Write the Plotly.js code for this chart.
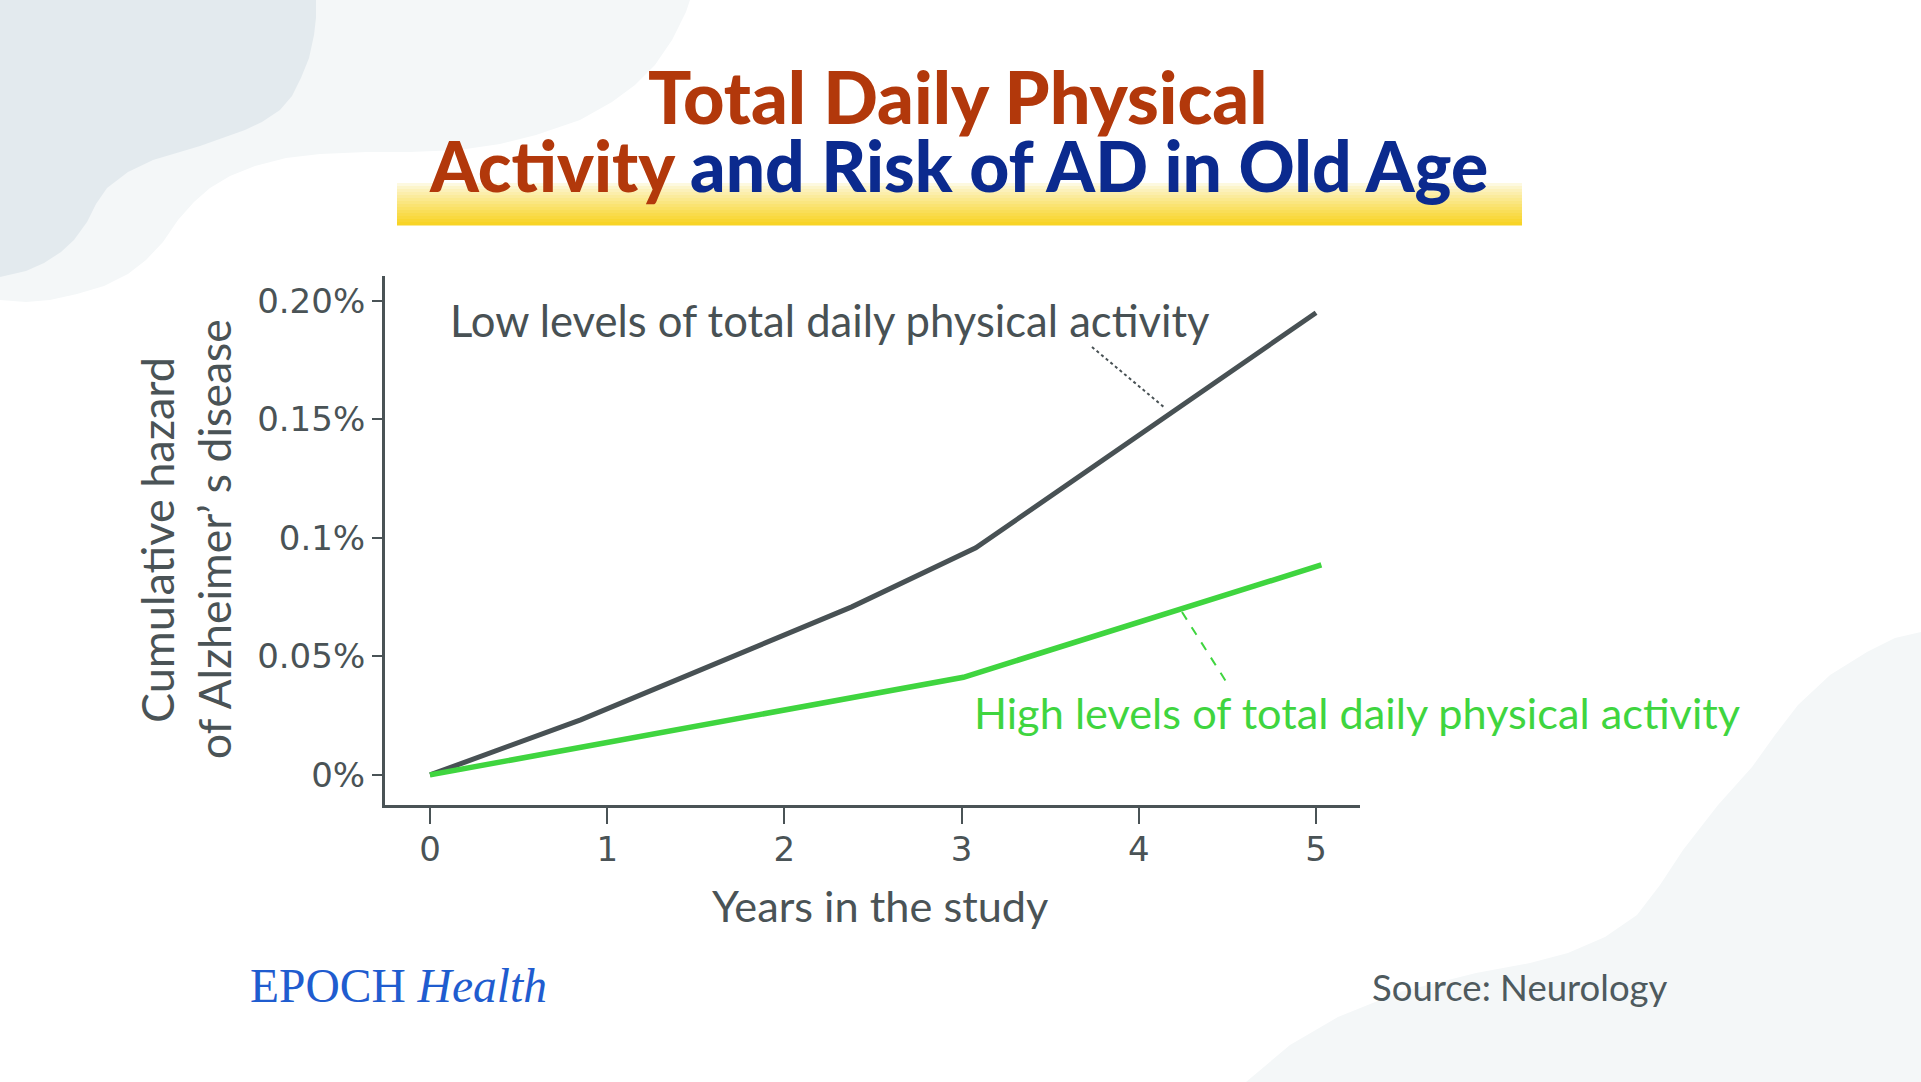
<!DOCTYPE html>
<html>
<head>
<meta charset="utf-8">
<script src="https://cdn.plot.ly/plotly-3.0.1.min.js"></script>
<style>html,body{margin:0;padding:0;background:#fff;}#chart{width:1921px;height:1082px;}</style>
</head>
<body>
<div id="chart"></div>
<script>
// ---- data ----
const years_low = [0, 0.85, 2.38, 3.08, 5.0];
const hazard_low = [0, 0.0232, 0.0709, 0.0958, 0.195];
const years_high = [0, 3.01, 5.03];
const hazard_high = [0, 0.0412, 0.0886];
const x_tick_vals = [0, 1, 2, 3, 4, 5];
const x_tick_text = ['0', '1', '2', '3', '4', '5'];
const y_tick_vals = [0, 0.05, 0.1, 0.15, 0.2];
const y_tick_text = ['0%', '0.05%', '0.1%', '0.15%', '0.20%'];
const label_low = 'Low levels of total daily physical activity';
const label_high = 'High levels of total daily physical activity';
const title_line1 = 'Total Daily Physical';
const title_line2a = 'Activity';
const title_line2b = 'and Risk of AD in Old Age';
const y_title_1 = 'Cumulative hazard';
const y_title_2 = 'of Alzheimer’ s disease';
const x_title = 'Years in the study';
const source_text = 'Source: Neurology';

// ---- layout geometry (pixels) ----
const W = 1921, H = 1082;
const PL = 385, PR = 1360, PT = 276, PB = 805;
const px = X => (X - PL) / (PR - PL);
const py = Y => (PB - Y) / (PB - PT);
const pathFrom = pts => 'M ' + pts.map(p => px(p[0]).toFixed(4) + ',' + py(p[1]).toFixed(4)).join(' L ') + ' Z';

const GRAY = '#485154', GREEN = '#3fd53f', TXT = '#4a5356';
const SANS = 'Lato, "Open Sans", sans-serif';

const shapes = [];
// decorative background blobs
shapes.push({type:'path', xref:'paper', yref:'paper', layer:'below', line:{width:0}, fillcolor:'#f4f7f8',
  path: pathFrom([[0,0],[690,0],[686,12],[672,40],[655,65],[635,85],[612,102],[580,120],[536,135],[500,144],[459,150],[410,152],[367,152],[320,154],[286,158],[255,166],[230,176],[210,188],[194,202],[178,220],[163,242],[146,260],[128,274],[104,286],[77,294],[50,300],[26,302],[0,300]])});
shapes.push({type:'path', xref:'paper', yref:'paper', layer:'below', line:{width:0}, fillcolor:'#e3eaee',
  path: pathFrom([[0,0],[316,0],[316,18],[314,35],[309,58],[301,78],[292,96],[280,110],[262,122],[245,130],[200,146],[153,160],[128,172],[107,188],[96,204],[87,222],[74,240],[61,252],[44,263],[26,271],[0,277]])});
shapes.push({type:'path', xref:'paper', yref:'paper', layer:'below', line:{width:0}, fillcolor:'#f4f7f8',
  path: pathFrom([[1246,1082],[1290,1045],[1338,1017],[1400,992],[1476,973],[1530,963],[1568,953],[1605,937],[1637,915],[1660,885],[1683,850],[1718,805],[1752,767],[1775,735],[1798,705],[1830,675],[1867,652],[1895,638],[1921,632],[1921,1082]])});
// yellow gradient band behind the title
const bandTop = 183, bandBot = 225, nStrips = 14;
const cTop = [253, 249, 224], cBot = [248, 212, 38];
for (let i = 0; i < nStrips; i++) {
  const t = i / (nStrips - 1);
  const c = cTop.map((v, k) => Math.round(v + (cBot[k] - v) * Math.pow(t, 0.85)));
  const y0 = bandTop + (bandBot - bandTop) * i / nStrips;
  const y1 = bandTop + (bandBot - bandTop) * (i + 1) / nStrips + 0.6;
  shapes.push({type:'rect', xref:'paper', yref:'paper', layer:'below', line:{width:0},
    fillcolor:'rgb(' + c.join(',') + ')', x0:px(397), x1:px(1522), y0:py(y1), y1:py(y0)});
}
// dashed leader lines
shapes.push({type:'line', xref:'paper', yref:'paper', x0:px(1092), y0:py(347), x1:px(1165), y1:py(408),
  line:{color:GRAY, width:2, dash:'dot'}});
shapes.push({type:'line', xref:'paper', yref:'paper', x0:px(1182), y0:py(612), x1:px(1227), y1:py(683),
  line:{color:GREEN, width:2, dash:'dash'}});

const annotations = [
  {text:title_line1, xref:'paper', yref:'paper', x:px(958), y:py(96), xanchor:'center', yanchor:'middle', showarrow:false,
   font:{family:SANS, size:72, weight:900, color:'#b2380b'}},
  {text:'<span style="color:#b2380b">' + title_line2a + '</span> ' + title_line2b, xref:'paper', yref:'paper', x:px(958), y:py(165),
   xanchor:'center', yanchor:'middle', showarrow:false, font:{family:SANS, size:69.5, weight:900, color:'#0b2a8e'}},
  {text:label_low, xref:'paper', yref:'paper', x:px(448), y:py(320), xanchor:'left', yanchor:'middle', showarrow:false,
   font:{family:SANS, size:43.6, color:GRAY}},
  {text:label_high, xref:'paper', yref:'paper', x:px(972), y:py(712), xanchor:'left', yanchor:'middle', showarrow:false,
   font:{family:SANS, size:43.3, color:GREEN}},
  {text:y_title_1, xref:'paper', yref:'paper', x:px(157), y:py(540), xanchor:'center', yanchor:'middle', textangle:-90, showarrow:false,
   font:{family:SANS, size:45, color:TXT}},
  {text:y_title_2, xref:'paper', yref:'paper', x:px(213), y:py(539), xanchor:'center', yanchor:'middle', textangle:-90, showarrow:false,
   font:{family:SANS, size:44.5, color:TXT}},
  {text:x_title, xref:'paper', yref:'paper', x:px(880), y:py(905), xanchor:'center', yanchor:'middle', showarrow:false,
   font:{family:SANS, size:43.3, color:TXT}},
  {text:source_text, xref:'paper', yref:'paper', x:px(1370), y:py(987), xanchor:'left', yanchor:'middle', showarrow:false,
   font:{family:SANS, size:36.5, color:'#4e5a5e'}},
  {text:'EPOCH <i>Health</i>', xref:'paper', yref:'paper', x:px(248), y:py(986), xanchor:'left', yanchor:'middle', showarrow:false,
   font:{family:'"Liberation Serif", "DejaVu Serif", serif', size:47.5, color:'#1f5ccf'}}
];

const traces = [
  {x:years_low, y:hazard_low, type:'scatter', mode:'lines', name:label_low,
   line:{color:GRAY, width:5}, hoverinfo:'skip'},
  {x:years_high, y:hazard_high, type:'scatter', mode:'lines', name:label_high,
   line:{color:GREEN, width:5.5}, hoverinfo:'skip'}
];

const layout = {
  width:W, height:H,
  margin:{l:PL, r:W - PR, t:PT, b:H - PB, pad:0},
  paper_bgcolor:'#ffffff', plot_bgcolor:'rgba(0,0,0,0)',
  showlegend:false,
  xaxis:{range:[-0.254, 5.248], showgrid:false, zeroline:false, showline:true, linecolor:TXT, linewidth:3,
    ticks:'outside', ticklen:16, tickwidth:2, tickcolor:TXT, tickvals:x_tick_vals, ticktext:x_tick_text,
    ticklabelstandoff:-4,
    tickfont:{family:'"DejaVu Sans", sans-serif', size:34, color:TXT}, fixedrange:true},
  yaxis:{range:[-0.0127, 0.2105], showgrid:false, zeroline:false, showline:true, linecolor:TXT, linewidth:3,
    ticks:'outside', ticklen:10, tickwidth:2, tickcolor:TXT, tickvals:y_tick_vals, ticktext:y_tick_text,
    tickfont:{family:'"DejaVu Sans", sans-serif', size:34, color:TXT}, fixedrange:true},
  shapes:shapes,
  annotations:annotations
};

Plotly.newPlot('chart', traces, layout, {displayModeBar:false, staticPlot:true});
</script>
</body>
</html>
